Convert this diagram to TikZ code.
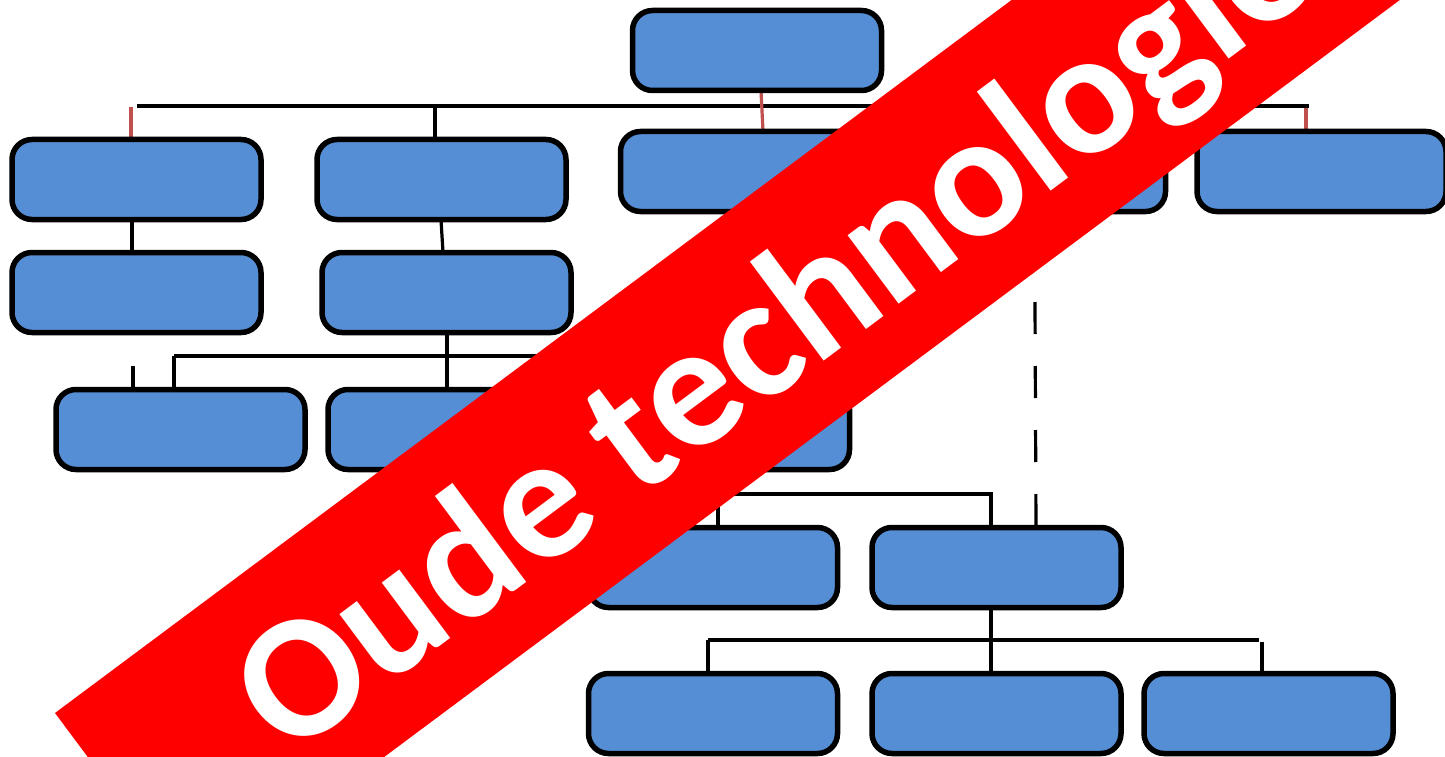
\documentclass[tikz,border=0pt]{standalone}
\usepackage{fontspec}
\newfontfamily\bannerfont{Carlito}
\definecolor{boxblue}{RGB}{85,142,213}
\definecolor{linkred}{RGB}{192,80,77}
\definecolor{bannerred}{RGB}{255,0,0}
\tikzset{
  orgbox/.style={draw=black, line width=5.5pt, fill=boxblue, rounded corners=20pt,
    minimum width=249pt, minimum height=80pt, inner sep=0pt},
  blackline/.style={draw=black, line width=3.2pt},
  redline/.style={draw=linkred, line width=3.2pt},
  dashline/.style={draw=black, line width=3.2pt, dash pattern=on 32pt off 32pt},
}
\begin{document}
\begin{tikzpicture}[x=1pt,y=-1pt]
\useasboundingbox (0,0) rectangle (1445,757);
\clip (0,0) rectangle (1445,757);
\fill[white] (0,0) rectangle (1445,757);
% coordinates for connector ends
\coordinate (hL) at (137,106);
\coordinate (hR) at (1309,106);
\coordinate (j1) at (174,356);
\coordinate (j1r) at (600,356);
\coordinate (j2l) at (700,494);
\coordinate (j2r) at (993,494);
\coordinate (j3l) at (708,640);
\coordinate (j3r) at (1259,640);
\coordinate (s1) at (133,366);
\coordinate (d1) at (1035,302);
% connectors (behind boxes)
\draw[blackline] (hL) -- (hR);
\draw[redline] (131,107) -- (131,139);
\draw[blackline] (435,106) -- (435,139);
\draw[redline] (761,91) -- (763,131);
\draw[redline] (1306,108) -- (1306,131);
\draw[blackline] (132,220) -- (132,252);
\draw[blackline] (441,220) -- (443,252);
\draw[blackline] (447,333) -- (447,389);
\draw[blackline] (j1) -- (j1r);
\draw[blackline] (j1) -- (174,389);
\draw[blackline] (s1) -- (133,389);
\draw[blackline] (j2l) -- (j2r);
\draw[blackline] (718,494) -- (718,527);
\draw[blackline] (991,494) -- (991,527);
\draw[dashline] (d1) -- (1036,530);
\draw[blackline] (991,608) -- (991,673);
\draw[blackline] (j3l) -- (j3r);
\draw[blackline] (j3l) -- (708,673);
\draw[blackline] (1262,642) -- (1262,673);
% boxes
\node[orgbox] (top) at (757,50.5) {};
\node[orgbox] (r2a) at (136.5,179.5) {};
\node[orgbox] (r2b) at (441.5,179.5) {};
\node[orgbox] (r2c) at (745,171.5) {};
\node[orgbox] (r2d) at (1041,171.5) {};
\node[orgbox] (r2e) at (1321.5,171.5) {};
\node[orgbox] (r3a) at (136.5,292.5) {};
\node[orgbox] (r3b) at (446.5,292.5) {};
\node[orgbox] (r4a) at (180.5,429.5) {};
\node[orgbox] (r4b) at (452.5,429.5) {};
\node[orgbox] (r4c) at (725,429.5) {};
\node[orgbox] (r5a) at (713,567.5) {};
\node[orgbox] (r5b) at (996.5,567.5) {};
\node[orgbox] (r6a) at (713,713.5) {};
\node[orgbox] (r6b) at (996.5,713.5) {};
\node[orgbox] (r6c) at (1268.5,713.5) {};
% banner
\fill[bannerred] (55,713) -- ++(36.7:2000pt) -- ++(-53.3:232pt) -- ++(216.7:2000pt) -- cycle;
\node[text=white, rotate=36.7, anchor=base west, inner sep=0pt,
  font=\bannerfont\bfseries\fontsize{176pt}{176pt}\selectfont] (banner) at (288,760) {Oude technologie};
\end{tikzpicture}
\end{document}
